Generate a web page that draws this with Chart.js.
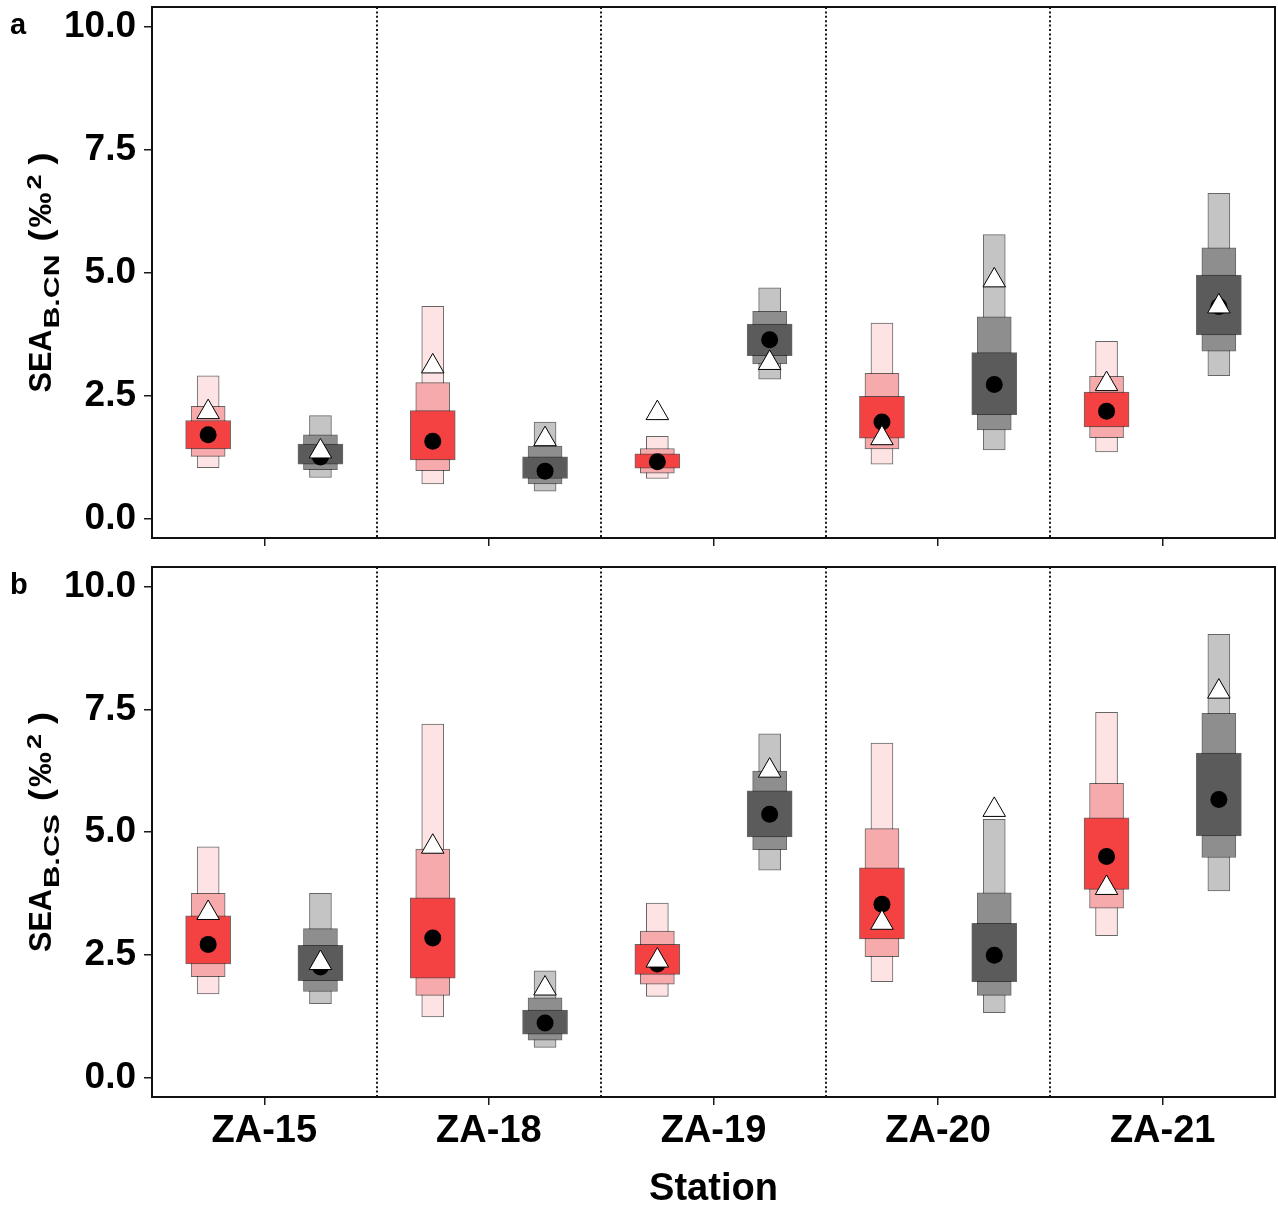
<!DOCTYPE html>
<html>
<head>
<meta charset="utf-8">
<script src="https://cdn.jsdelivr.net/npm/chart.js@4.4.1/dist/chart.umd.min.js"></script>
<style>
  html, body { margin: 0; padding: 0; background: #ffffff; }
  #wrap { position: relative; width: 1278px; height: 1207px; overflow: hidden; background: #ffffff; }
  #wrap canvas { position: absolute; left: 0; }
</style>
</head>
<body>
<div id="wrap">
  <canvas id="panelA" width="1278" height="560" style="top:0px"></canvas>
  <canvas id="panelB" width="1278" height="647" style="top:560px"></canvas>
</div>
<script>
// Stations along the x axis
const stations = ['ZA-15', 'ZA-18', 'ZA-19', 'ZA-20', 'ZA-21'];
const yTicks = [0, 2.5, 5, 7.5, 10];

// Panel a: SEA_B (carbon-nitrogen), credible intervals [low, high] per station
const cnRed95 = [[1.03, 2.90], [0.70, 4.31], [0.81, 1.67], [1.10, 3.97], [1.35, 3.60]];
const cnRed75 = [[1.26, 2.28], [0.97, 2.76], [0.92, 1.42], [1.41, 2.95], [1.64, 2.89]];
const cnRed50 = [[1.41, 1.99], [1.19, 2.19], [1.02, 1.31], [1.63, 2.48], [1.86, 2.57]];
const cnRedMode = [1.70, 1.57, 1.15, 1.96, 2.18];
const cnRedSEAc = [2.16, 3.09, 2.14, 1.63, 2.73];
const cnGray95 = [[0.83, 2.09], [0.55, 1.96], [2.83, 4.69], [1.39, 5.77], [2.90, 6.61]];
const cnGray75 = [[0.99, 1.70], [0.70, 1.47], [3.14, 4.21], [1.80, 4.10], [3.40, 5.50]];
const cnGray50 = [[1.10, 1.51], [0.81, 1.25], [3.31, 3.95], [2.11, 3.37], [3.73, 4.95]];
const cnGrayMode = [1.25, 0.96, 3.63, 2.72, 4.31];
const cnGraySEAc = [1.36, 1.61, 3.16, 4.84, 4.31];

// Panel b: SEA_B (carbon-sulfur)
const csRed95 = [[1.70, 4.70], [1.23, 7.20], [1.65, 3.55], [1.95, 6.81], [2.89, 7.44]];
const csRed75 = [[2.05, 3.75], [1.67, 4.65], [1.90, 2.98], [2.46, 5.07], [3.45, 5.99]];
const csRed50 = [[2.31, 3.29], [2.02, 3.66], [2.10, 2.71], [2.82, 4.27], [3.83, 5.29]];
const csRedMode = [2.71, 2.84, 2.31, 3.53, 4.50];
const csRedSEAc = [3.35, 4.70, 2.38, 3.15, 3.86];
const csGray95 = [[1.50, 3.75], [0.61, 2.17], [4.22, 7.00], [1.32, 5.26], [3.80, 9.03]];
const csGray75 = [[1.75, 3.03], [0.76, 1.62], [4.64, 6.24], [1.67, 3.76], [4.48, 7.42]];
const csGray50 = [[1.97, 2.69], [0.88, 1.37], [4.90, 5.84], [1.95, 3.14], [4.92, 6.61]];
const csGrayMode = [2.25, 1.11, 5.36, 2.49, 5.66];
const csGraySEAc = [2.33, 1.81, 6.25, 5.45, 7.86];

const FONT = "'Liberation Sans', Arial, Helvetica, sans-serif";
const RED = { c95: '#FDE3E4', c75: '#F6AAAB', c50: '#F44142' };
const GRAY = { c95: '#C4C4C4', c75: '#8E8E8E', c50: '#5B5B5B' };
const EDGE = 'rgba(0,0,0,0.6)';
const GROUP_SHIFT = 0.25;

function bars(intervals, shift, color, thickness, order) {
  return {
    type: 'bar',
    data: intervals.map((iv, i) => ({ x: i + 1 + shift, y: iv })),
    backgroundColor: color,
    borderColor: EDGE,
    borderWidth: 1,
    borderSkipped: false,
    barThickness: thickness,
    grouped: false,
    order: order
  };
}

function points(values, shift, style, order) {
  const tri = style === 'triangle';
  return {
    type: 'scatter',
    data: values.map((v, i) => ({ x: i + 1 + shift, y: v })),
    pointStyle: style,
    pointRadius: tri ? 13 : 8.5,
    backgroundColor: tri ? '#ffffff' : '#000000',
    borderColor: '#000000',
    borderWidth: tri ? 1 : 0,
    order: order
  };
}

function groupDatasets(s95, s75, s50, mode, seac, shift, pal) {
  return [
    bars(s95, shift, pal.c95, 22, 5),
    bars(s75, shift, pal.c75, 34, 4),
    bars(s50, shift, pal.c50, 45, 3),
    points(mode, shift, 'circle', 2),
    points(seac, shift, 'triangle', 1)
  ];
}

// Frame, station dividers, panel letter and the y-axis title with sub/superscripts
function framePlugin(letter, subscript) {
  return {
    id: 'frame',
    beforeDatasetsDraw(chart) {
      const { ctx, chartArea: a, scales: { x } } = chart;
      ctx.save();
      ctx.strokeStyle = '#000';
      ctx.lineWidth = 1.8;
      ctx.setLineDash([2, 2.4]);
      for (let i = 1; i < stations.length; i++) {
        const px = Math.round(x.getPixelForValue(i + 0.5));
        ctx.beginPath();
        ctx.moveTo(px, a.top);
        ctx.lineTo(px, a.bottom);
        ctx.stroke();
      }
      ctx.restore();
    },
    afterDraw(chart) {
      const { ctx, chartArea: a } = chart;
      ctx.save();
      ctx.strokeStyle = '#111';
      ctx.lineWidth = 2;
      ctx.strokeRect(a.left, a.top, a.right - a.left, a.bottom - a.top);

      ctx.fillStyle = '#000';
      ctx.font = 'bold 29px ' + FONT;
      ctx.textAlign = 'left';
      ctx.textBaseline = 'alphabetic';
      ctx.fillText(letter, 10, a.top + 27);

      // y-axis title, rotated; pieces run bottom to top.
      // len = advance along the text, dy = baseline shift (positive = subscript)
      const pieces = [
        { t: 'SEA', size: 32, dy: 0, len: 63, gap: 0 },
        { t: subscript, size: 22, dy: 8, len: 74, gap: 1 },
        { t: '(', size: 31, dy: 0, len: 12, gap: 13 },
        { t: '\u2030', size: 32, dy: 0, len: 35, gap: 2 },
        { t: '2', size: 20, dy: -10, len: 15, gap: 3 },
        { t: ')', size: 31, dy: 0, len: 12, gap: 10 }
      ];
      const total = pieces.reduce((s, p) => s + p.gap + p.len, 0);
      const cy = (a.top + a.bottom) / 2;
      ctx.translate(51, cy);
      ctx.rotate(-Math.PI / 2);
      let pos = -total / 2;
      pieces.forEach(p => {
        pos += p.gap;
        ctx.font = 'bold ' + p.size + 'px ' + FONT;
        const w = ctx.measureText(p.t).width;
        ctx.save();
        ctx.translate(pos, p.dy);
        ctx.scale(p.len / w, 1);
        ctx.fillText(p.t, 0, 0);
        ctx.restore();
        pos += p.len;
      });
      ctx.restore();
    }
  };
}

function makePanel(canvasId, groups, letter, subscript, showLabels) {
  const axisHeight = showLabels ? 110 : 22;
  return new Chart(document.getElementById(canvasId), {
    type: 'bar',
    data: { datasets: groups },
    options: {
      responsive: false,
      animation: false,
      devicePixelRatio: 1,
      layout: { padding: { left: 0, right: 3, top: 7, bottom: 0 }, autoPadding: false },
      plugins: { legend: { display: false }, tooltip: { enabled: false } },
      scales: {
        x: {
          type: 'linear',
          min: 0.5,
          max: 5.5,
          offset: false,
          afterBuildTicks: s => { s.ticks = stations.map((_, i) => ({ value: i + 1 })); },
          afterFit: s => { s.height = axisHeight; s.paddingLeft = 0; s.paddingRight = 0; },
          ticks: {
            autoSkip: false,
            maxRotation: 0,
            padding: 4,
            color: '#000',
            font: { family: FONT, size: 38, weight: 'bold' },
            callback: (v, i) => showLabels ? stations[i] : ''
          },
          grid: { offset: false, drawOnChartArea: false, drawTicks: true, tickLength: 8, color: '#1a1a1a', lineWidth: 1.5 },
          border: { display: false },
          title: {
            display: showLabels,
            text: 'Station',
            color: '#000',
            font: { family: FONT, size: 38, weight: 'bold', lineHeight: 0.9 },
            padding: { top: 0, bottom: 0 }
          }
        },
        y: {
          type: 'linear',
          min: -0.4,
          max: 10.4,
          afterBuildTicks: s => { s.ticks = yTicks.map(v => ({ value: v })); },
          afterFit: s => { s.width = 152; s.paddingTop = 0; s.paddingBottom = 0; },
          ticks: {
            padding: 8,
            color: '#000',
            font: { family: FONT, size: 37, weight: 'bold' },
            callback: v => Number(v).toFixed(1)
          },
          grid: { offset: false, drawOnChartArea: false, drawTicks: true, tickLength: 8, color: '#1a1a1a', lineWidth: 1.5 },
          border: { display: false }
        }
      }
    },
    plugins: [framePlugin(letter, subscript)]
  });
}

makePanel('panelA', [
  ...groupDatasets(cnRed95, cnRed75, cnRed50, cnRedMode, cnRedSEAc, -GROUP_SHIFT, RED),
  ...groupDatasets(cnGray95, cnGray75, cnGray50, cnGrayMode, cnGraySEAc, GROUP_SHIFT, GRAY)
], 'a', 'B.CN', false);

makePanel('panelB', [
  ...groupDatasets(csRed95, csRed75, csRed50, csRedMode, csRedSEAc, -GROUP_SHIFT, RED),
  ...groupDatasets(csGray95, csGray75, csGray50, csGrayMode, csGraySEAc, GROUP_SHIFT, GRAY)
], 'b', 'B.CS', true);
</script>
</body>
</html>
